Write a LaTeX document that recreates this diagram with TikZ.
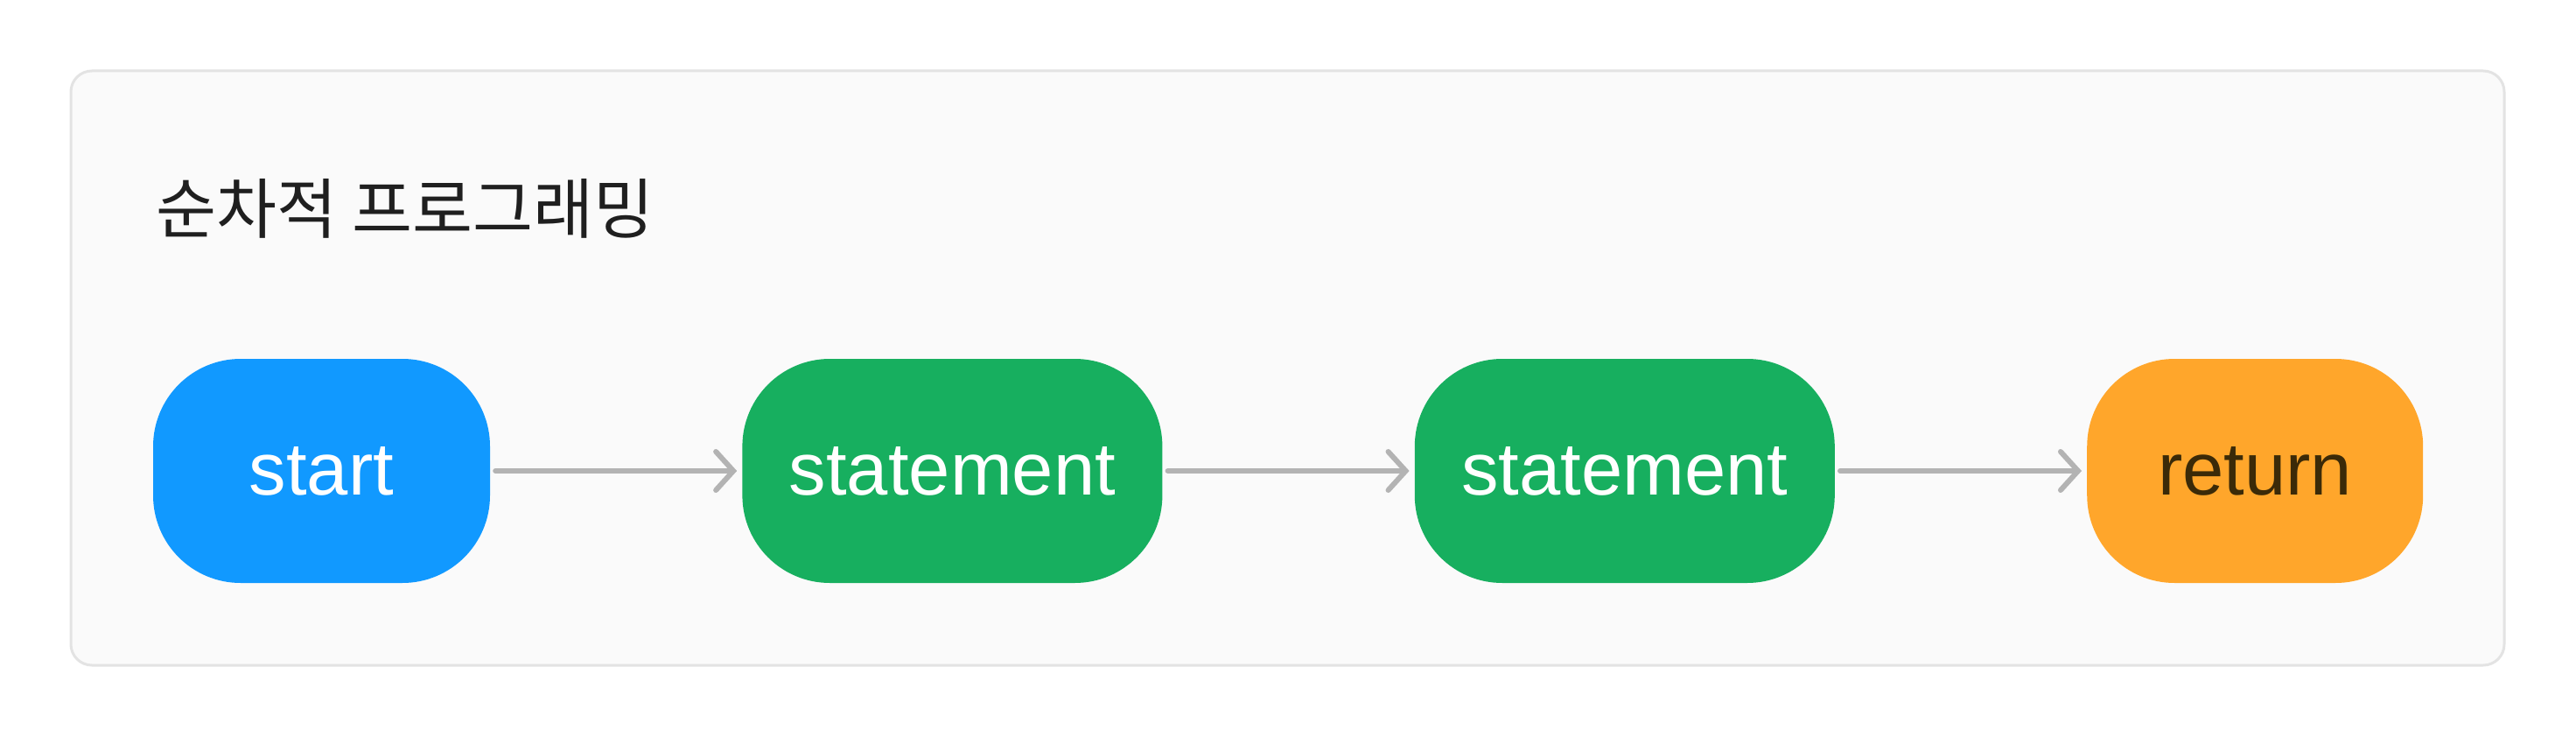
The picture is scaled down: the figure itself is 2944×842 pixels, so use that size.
\documentclass[tikz,border=0pt]{standalone}
\usepackage{fontspec}
\setmainfont{Liberation Sans}
\newfontfamily\krfont{Noto Sans CJK KR}
\usepackage{xcolor}
\usetikzlibrary{positioning,arrows.meta}

\definecolor{panelfill}{HTML}{FAFAFA}
\definecolor{panelline}{HTML}{E3E3E3}
\definecolor{startblue}{HTML}{1199FF}
\definecolor{stmtgreen}{HTML}{17AF5F}
\definecolor{retorange}{HTML}{FFA62B}
\definecolor{rettext}{HTML}{3B2A08}
\definecolor{flowgray}{HTML}{B3B3B3}
\definecolor{titleink}{HTML}{1F1F1F}

\begin{document}
\begin{tikzpicture}[
  x=1pt, y=1pt,
  font=\fontsize{85}{100}\selectfont,
  block/.style = {rectangle, rounded corners=100pt, minimum height=256pt,
    inner sep=0pt, align=center},
  startblock/.style = {block, fill=startblue, text=white, minimum width=385pt},
  stmtblock/.style  = {block, fill=stmtgreen, text=white, minimum width=480pt},
  retblock/.style   = {block, fill=retorange, text=rettext, minimum width=384pt},
  flow/.style = {-{Straight Barb[length=20pt,width=44pt,line cap=round]},
    line width=6pt, line cap=round, draw=flowgray,
    shorten <=6pt, shorten >=6pt},
  node distance=288pt,
]
  \useasboundingbox[fill=white] (0,0) rectangle (2944,-842);
  \draw[fill=panelfill, draw=panelline, line width=3pt, rounded corners=24pt]
    (81,-81) rectangle (2862,-760);

  \node[anchor=base west, text=titleink, inner sep=0pt,
    font=\krfont\fontsize{75}{90}\selectfont] (title) at (178,-267) {순차적 프로그래밍};

  \node[startblock] (start) at (367.5,-538) {start};
  \node[stmtblock, right=of start] (stmtA) {statement};
  \node[stmtblock, right=of stmtA] (stmtB) {statement};
  \node[retblock, right=of stmtB]  (ret)   {return};

  \draw[flow] (start) -- (stmtA);
  \draw[flow] (stmtA) -- (stmtB);
  \draw[flow] (stmtB) -- (ret);
\end{tikzpicture}
\end{document}
